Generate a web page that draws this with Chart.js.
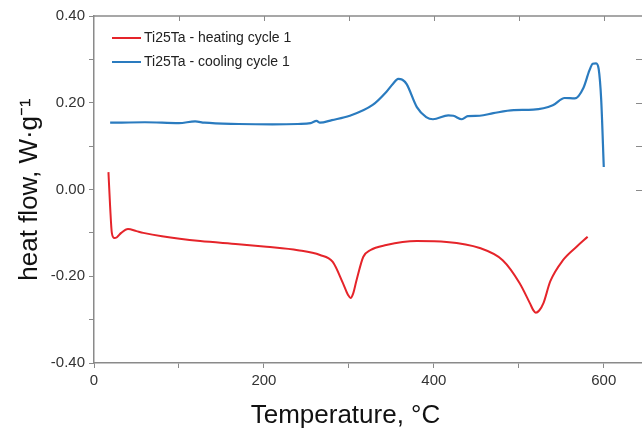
<!DOCTYPE html>
<html>
<head>
<meta charset="utf-8">
<script src="https://cdn.jsdelivr.net/npm/chart.js@4"></script>
<style>
  html,body{margin:0;padding:0;background:#fff;overflow:hidden}
  #wrap{width:642px;height:430px}
</style>
</head>
<body>
<div id="wrap"><canvas id="dsc" width="642" height="430"></canvas></div>
<script>
// heating cycle 1 (red)
const heatT = [17, 19, 21, 24, 27, 32, 40, 50, 58, 80, 125, 170, 203, 240, 266, 281, 293, 299, 302, 305, 309, 317, 325, 344, 380, 415, 454, 481, 501, 513, 517, 520, 524, 529, 537, 552, 568, 581];
const heatQ = [0.040, -0.040, -0.100, -0.112, -0.110, -0.100, -0.091, -0.096, -0.100, -0.108, -0.119, -0.126, -0.132, -0.140, -0.151, -0.167, -0.216, -0.243, -0.250, -0.240, -0.209, -0.155, -0.140, -0.128, -0.119, -0.121, -0.135, -0.163, -0.216, -0.262, -0.278, -0.284, -0.279, -0.262, -0.212, -0.163, -0.132, -0.109];
// cooling cycle 1 (blue)
const coolT = [19, 60, 100, 119, 130, 170, 210, 240, 255, 262, 266, 280, 301, 328, 344, 352, 358, 363, 368, 380, 391, 399, 417, 423, 433, 440, 454, 470, 494, 517, 540, 554, 566, 576, 583, 587, 591, 594, 597, 600];
const coolQ = [0.154, 0.155, 0.153, 0.157, 0.154, 0.151, 0.150, 0.151, 0.153, 0.158, 0.154, 0.160, 0.170, 0.195, 0.225, 0.244, 0.255, 0.253, 0.243, 0.190, 0.167, 0.162, 0.171, 0.170, 0.162, 0.169, 0.170, 0.176, 0.183, 0.184, 0.194, 0.211, 0.210, 0.234, 0.274, 0.290, 0.291, 0.278, 0.206, 0.052];

const seriesNames = ["Ti25Ta - heating cycle 1", "Ti25Ta - cooling cycle 1"];
const seriesColors = ["#e5242a", "#2a7bbf"];
const xTicks = [0, 100, 200, 300, 400, 500, 600];
const yTicks = [-0.4, -0.3, -0.2, -0.1, 0, 0.1, 0.2, 0.3, 0.4];
const xTitle = "Temperature, °C";
const yTitle = "heat flow, W·g⁻¹";

const AX = "#8a8a8a";
const pts = (xs, ys) => xs.map((x,i)=>({x, y: ys[i]}));

// top frame, inward ticks on top/right, legend, x title
const extras = {
  id: "extras",
  afterDraw(c){
    const {ctx, chartArea:a, scales:{x, y}} = c;
    ctx.save();
    ctx.strokeStyle = AX; ctx.lineWidth = 1.5;
    ctx.beginPath(); ctx.moveTo(a.left, a.top); ctx.lineTo(a.right, a.top); ctx.stroke();
    ctx.lineWidth = 1;
    ctx.beginPath();
    xTicks.slice(1).forEach(v=>{ const px = Math.round(x.getPixelForValue(v))+0.5; ctx.moveTo(px, a.top); ctx.lineTo(px, a.top+5); });
    yTicks.slice(4, 8).forEach(v=>{ const py = Math.round(y.getPixelForValue(v))+0.5; ctx.moveTo(a.right-6, py); ctx.lineTo(a.right, py); });
    ctx.stroke();

    // legend
    ctx.font = "14px 'Liberation Sans', Arial, sans-serif";
    ctx.textBaseline = "middle";
    seriesNames.forEach((n,i)=>{
      const ly = 38 + i*24;
      ctx.strokeStyle = seriesColors[i]; ctx.lineWidth = 2;
      ctx.beginPath(); ctx.moveTo(112, ly); ctx.lineTo(141, ly); ctx.stroke();
      ctx.fillStyle = "#222";
      ctx.fillText(n, 144, ly);
    });

    // x title
    ctx.font = "26px 'Liberation Sans', Arial, sans-serif";
    ctx.textAlign = "center"; ctx.textBaseline = "alphabetic";
    ctx.fillStyle = "#111";
    ctx.fillText(xTitle, x.getPixelForValue(296), 423);
    ctx.restore();
  }
};

new Chart(document.getElementById("dsc").getContext("2d"), {
  type: "line",
  data: {
    datasets: [
      {label: seriesNames[0], data: pts(heatT, heatQ), borderColor: seriesColors[0], borderWidth: 2, pointRadius: 0, cubicInterpolationMode: "monotone", fill: false},
      {label: seriesNames[1], data: pts(coolT, coolQ), borderColor: seriesColors[1], borderWidth: 2.2, pointRadius: 0, cubicInterpolationMode: "monotone", fill: false}
    ]
  },
  options: {
    responsive: false, animation: false,
    layout: {padding: {top: 16, left: 0, right: 0, bottom: 0}},
    plugins: {legend: {display: false}, tooltip: {enabled: false}},
    scales: {
      x: {
        type: "linear", min: 0, max: 645,
        afterBuildTicks: s => { s.ticks = xTicks.map(v=>({value: v})); },
        afterFit: s => { s.height = 67; },
        ticks: {
          autoSkip: false, maxRotation: 0, padding: 4,
          color: "#333", font: {size: 15, family: "'Liberation Sans', Arial, sans-serif"},
          callback: v => v % 200 === 0 ? String(v) : ""
        },
        grid: {display: true, drawOnChartArea: false, drawTicks: true, tickLength: 5, color: AX},
        border: {display: true, color: AX, width: 1.5}
      },
      y: {
        type: "linear", min: -0.4, max: 0.4,
        afterBuildTicks: s => { s.ticks = yTicks.map(v=>({value: v})); },
        afterFit: s => { s.width = 94; },
        ticks: {
          autoSkip: false, padding: 4,
          color: "#333", font: {size: 15, family: "'Liberation Sans', Arial, sans-serif"},
          callback: v => Math.round(v*10) % 2 === 0 ? (Math.abs(v)<1e-9 ? "0.00" : v.toFixed(2)) : ""
        },
        grid: {display: true, drawOnChartArea: false, drawTicks: true, tickLength: 5, color: AX},
        border: {display: true, color: AX, width: 1.5},
        title: {display: true, text: yTitle, color: "#111", padding: {top: 14, bottom: 0},
                font: {size: 26, family: "'Liberation Sans', Arial, sans-serif"}}
      }
    }
  },
  plugins: [extras]
});
</script>
</body>
</html>
